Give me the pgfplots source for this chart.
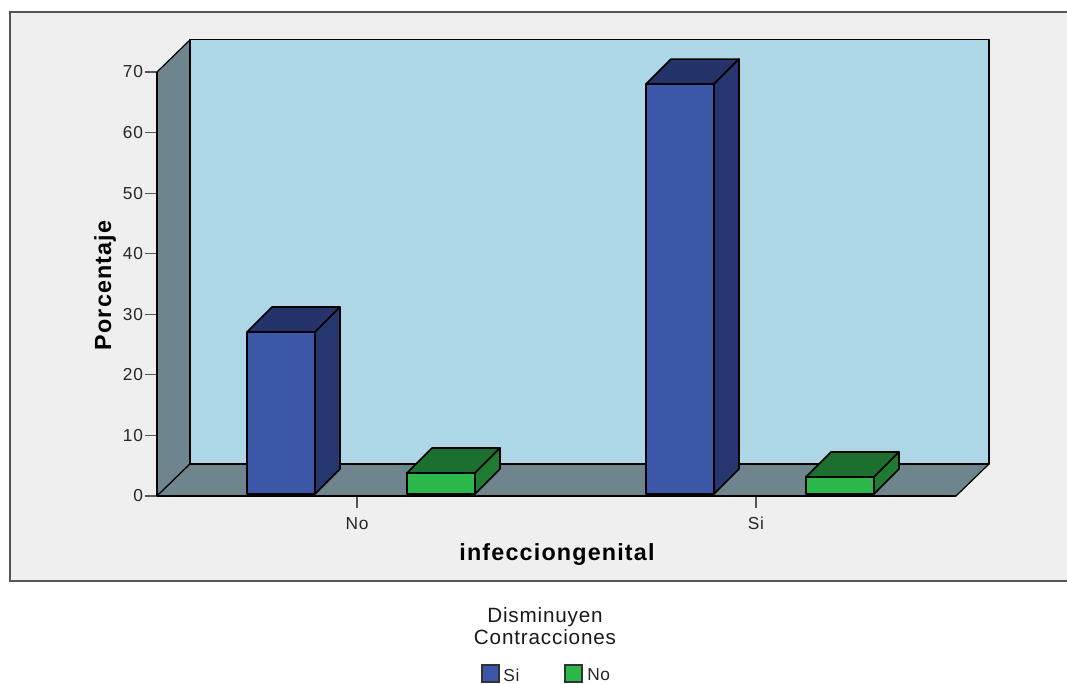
\documentclass[border=0pt]{standalone}
\usepackage{fontspec}
\setmainfont{Liberation Sans}
\newfontfamily\trackedfont[LetterSpace=4]{Liberation Sans}
\newfontfamily\boldtracked[LetterSpace=5,BoldFont={Liberation Sans Bold}]{Liberation Sans}
\usepackage{pgfplots}
\pgfplotsset{compat=1.18}
\definecolor{panel}{HTML}{EFEFEF}
\definecolor{wall}{HTML}{6E858E}
\definecolor{backwall}{HTML}{ADD7E6}
\definecolor{blueFront}{HTML}{3C56A8}
\definecolor{blueTop}{HTML}{24336A}
\definecolor{blueSide}{HTML}{26366E}
\definecolor{greenFront}{HTML}{2DB84B}
\definecolor{greenTop}{HTML}{1C6F2E}
\definecolor{greenSide}{HTML}{1F7A32}
\definecolor{tickgray}{HTML}{555555}
\begin{document}
\begin{tikzpicture}
% page extent and chart panel, in a top-left origin
\begin{scope}[x=0.75pt,y=-0.75pt]
\path[use as bounding box] (0,0) rectangle (1067,684);
\fill[panel] (10,12) rectangle (1067,581);
\draw[tickgray,line width=1.1pt] (1067,12) -- (10,12) -- (10,581) -- (1067,581);
\end{scope}
\begin{axis}[
  at={(117.75pt,-372pt)}, anchor=south west,
  scale only axis, width=599.25pt, height=318pt,
  xmin=157, xmax=956, ymin=0, ymax=70,
  clip=false,
  axis x line=bottom, axis y line=left,
  axis line style={-,black,line width=0.9pt},
  axis on top,
  xtick={357,756}, xticklabels={No,Si},
  ytick={0,10,...,70},
  tick style={tickgray,line width=0.9pt},
  tick align=outside,
  major tick length=9pt,
  tick label style={font=\trackedfont\fontsize{13}{15}\selectfont, text=black!85},
  yticklabel style={xshift=2pt},
  xticklabel style={yshift=-3.5pt},
  /pgf/number format/assume math mode=true,
  xlabel={\boldtracked\bfseries infecciongenital},
  ylabel={\boldtracked\bfseries Porcentaje},
  xlabel style={at={(axis description cs:0.5006,-0.137)},anchor=center,font=\fontsize{17.5}{20}\selectfont},
  ylabel style={at={(axis description cs:-0.065,0.497)},anchor=center,font=\fontsize{17.5}{20}\selectfont},
  every axis plot/.append style={forget plot,mark=none,line join=round},
]
% left wall, floor and back wall
\addplot[fill=wall,draw=black,line width=0.9pt] coordinates {(157,0)(190,5.28)(190,75.3)(157,70)} --cycle;
\addplot[fill=wall,draw=black,line width=0.9pt] coordinates {(157,0)(190,5.28)(989,5.28)(956,0)} --cycle;
\addplot[fill=backwall,draw=black,line width=0.9pt] coordinates {(190,5.28)(190,75.3)(989,75.3)(989,5.28)} --cycle;
% Si, category No
\addplot[fill=blueTop,draw=black,line width=1.2pt] coordinates {(247,27.07)(272,31.2)(340,31.2)(315,27.07)} --cycle;
\addplot[fill=blueSide,draw=black,line width=1.2pt] coordinates {(315,0.33)(340,4.46)(340,31.2)(315,27.07)} --cycle;
\addplot[fill=blueFront,draw=black,line width=1.2pt] coordinates {(247,0.33)(247,27.07)(315,27.07)(315,0.33)} --cycle;
% No, category No
\addplot[fill=greenTop,draw=black,line width=1.2pt] coordinates {(407,3.8)(432,7.93)(500,7.93)(475,3.8)} --cycle;
\addplot[fill=greenSide,draw=black,line width=1.2pt] coordinates {(475,0.33)(500,4.46)(500,7.93)(475,3.8)} --cycle;
\addplot[fill=greenFront,draw=black,line width=1.2pt] coordinates {(407,0.33)(407,3.8)(475,3.8)(475,0.33)} --cycle;
% Si, category Si
\addplot[fill=blueTop,draw=black,line width=1.2pt] coordinates {(646,68)(671,72.13)(739,72.13)(714,68)} --cycle;
\addplot[fill=blueSide,draw=black,line width=1.2pt] coordinates {(714,0.33)(739,4.46)(739,72.13)(714,68)} --cycle;
\addplot[fill=blueFront,draw=black,line width=1.2pt] coordinates {(646,0.33)(646,68)(714,68)(714,0.33)} --cycle;
% No, category Si
\addplot[fill=greenTop,draw=black,line width=1.2pt] coordinates {(806,3.13)(831,7.26)(899,7.26)(874,3.13)} --cycle;
\addplot[fill=greenSide,draw=black,line width=1.2pt] coordinates {(874,0.33)(899,4.46)(899,7.26)(874,3.13)} --cycle;
\addplot[fill=greenFront,draw=black,line width=1.2pt] coordinates {(806,0.33)(806,3.13)(874,3.13)(874,0.33)} --cycle;
\end{axis}
% legend below the panel
\begin{scope}[x=0.75pt,y=-0.75pt]
\node[font=\trackedfont\fontsize{15.5}{17}\selectfont,text=black!90,align=center] at (545,626) {Disminuyen\\Contracciones};
\draw[black!80,fill=blueFront,line width=0.9pt] (482,665) rectangle (499,682);
\node[font=\trackedfont\fontsize{13}{15}\selectfont,anchor=west,inner sep=0pt,text=black!85] at (503,675) {Si};
\draw[black!80,fill=greenFront,line width=0.9pt] (565,665) rectangle (582,682);
\node[font=\trackedfont\fontsize{13}{15}\selectfont,anchor=west,inner sep=0pt,text=black!85] at (587,675) {No};
\end{scope}
\end{tikzpicture}
\end{document}
